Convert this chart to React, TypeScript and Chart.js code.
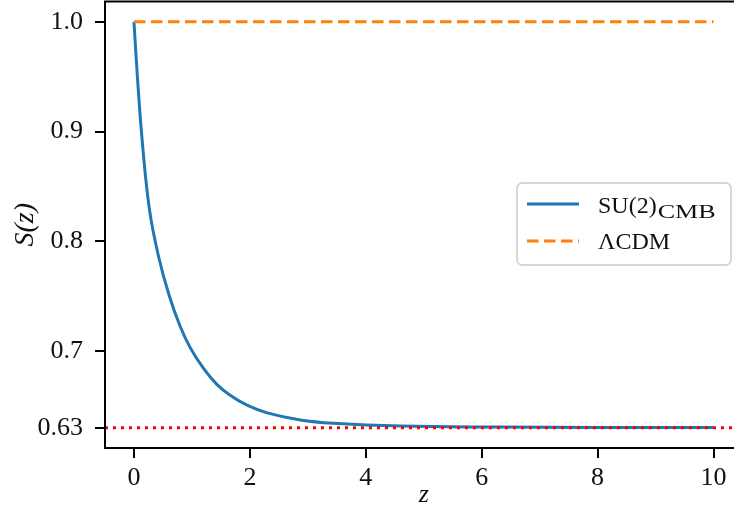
import React, { useEffect, useRef } from "react";
import { Chart, registerables } from "chart.js";

Chart.register(...registerables);

// ---- data ----
const zSU2 = [0, 0.06, 0.147, 0.267, 0.42, 0.61, 0.8, 0.97, 1.2, 1.43, 1.66, 1.95, 2.3, 2.87, 3.44, 4.6, 6.3, 8, 10];
const sSU2 = [1.0, 0.949, 0.8885, 0.829, 0.787, 0.75, 0.722, 0.703, 0.684, 0.6695, 0.6595, 0.6505, 0.6435, 0.637, 0.634, 0.6315, 0.6306, 0.6303, 0.6302];
const zLCDM = [0, 10];
const sLCDM = [1.0, 1.0];
const floorLevel = 0.63;
const xLimits = [-0.5, 10.5];
const yLimits = [0.6115, 1.0185];
const xTickValues = [0, 2, 4, 6, 8, 10];
const yTickValues = [0.63, 0.7, 0.8, 0.9, 1.0];
const yTickLabels = ["0.63", "0.7", "0.8", "0.9", "1.0"];
const legendMain = ["SU(2)", "ΛCDM"];
const legendSub = ["CMB", ""];

const FONT = "'Liberation Serif', 'DejaVu Serif', serif";
const TEXT = "#111";
const BLUE = "#1f77b4";
const ORANGE = "#ff7f0e";
const RED = "#ff0000";

const framePlugin = {
  id: "frame",
  afterDraw(chart: any) {
    const { ctx, chartArea } = chart;
    ctx.save();
    ctx.strokeStyle = "#000";
    ctx.lineWidth = 2;
    ctx.strokeRect(chartArea.left, chartArea.top, chartArea.right - chartArea.left, chartArea.bottom - chartArea.top);
    ctx.restore();
  },
};

const legendPlugin = {
  id: "mplLegend",
  afterDraw(chart: any) {
    const { ctx } = chart;
    const bx = 517, by = 183, bw = 214, bh = 82;
    ctx.save();
    ctx.beginPath();
    (ctx as any).roundRect(bx, by, bw, bh, 5);
    ctx.fillStyle = "rgba(255,255,255,0.8)";
    ctx.fill();
    ctx.strokeStyle = "#cccccc";
    ctx.lineWidth = 1.5;
    ctx.stroke();

    const rows = [
      { y: 204, color: BLUE, dash: [] as number[], base: 213 },
      { y: 241, color: ORANGE, dash: [11.5, 5.5], base: 249 },
    ];
    rows.forEach((r, i) => {
      ctx.beginPath();
      ctx.setLineDash(r.dash);
      ctx.strokeStyle = r.color;
      ctx.lineWidth = 3;
      ctx.moveTo(527, r.y);
      ctx.lineTo(579, r.y);
      ctx.stroke();
      ctx.setLineDash([]);
      ctx.fillStyle = TEXT;
      ctx.textBaseline = "alphabetic";
      ctx.textAlign = "left";
      ctx.font = `24px ${FONT}`;
      ctx.fillText(legendMain[i], 598, r.base);
      const w = ctx.measureText(legendMain[i]).width;
      if (legendSub[i]) {
        ctx.font = `18px ${FONT}`;
        const sw = ctx.measureText(legendSub[i]).width;
        const sx = 58 / sw;
        ctx.save();
        ctx.translate(598 + w + 1, r.base + 5);
        ctx.scale(sx, 1);
        ctx.fillText(legendSub[i], 0, 0);
        ctx.restore();
      }
    });
    ctx.restore();
  },
};

export default function App() {
  const ref = useRef<HTMLCanvasElement | null>(null);
  useEffect(() => {
    if (!ref.current) return;
    const chart = new Chart(ref.current, {
      type: "line",
      data: {
        datasets: [
          {
            label: "floor",
            data: xLimits.map((x) => ({ x, y: floorLevel })),
            borderColor: RED,
            borderWidth: 3,
            borderDash: [3, 5],
            pointRadius: 0,
            order: 0,
          },
          {
            label: "ΛCDM",
            data: zLCDM.map((x, i) => ({ x, y: sLCDM[i] })),
            borderColor: ORANGE,
            borderWidth: 3,
            borderDash: [11.5, 5.5],
            pointRadius: 0,
            order: 1,
          },
          {
            label: "SU(2)CMB",
            data: zSU2.map((x, i) => ({ x, y: sSU2[i] })),
            borderColor: BLUE,
            borderWidth: 3,
            pointRadius: 0,
            tension: 0.4,
            order: 2,
          },
        ],
      },
      options: {
        animation: false,
        responsive: false,
        devicePixelRatio: 1,
        layout: { padding: { top: 1.5, right: 7.5, left: 0, bottom: 0 } },
        plugins: { legend: { display: false }, tooltip: { enabled: false } },
        scales: {
          x: {
            type: "linear",
            min: xLimits[0],
            max: xLimits[1],
            afterBuildTicks: (s: any) => {
              s.ticks = xTickValues.map((v) => ({ value: v }));
            },
            afterFit: (s: any) => {
              s.height = 63;
              s.paddingLeft = 0;
              s.paddingRight = 0;
            },
            border: { display: false },
            grid: { drawOnChartArea: false, drawTicks: true, tickLength: 10, tickColor: "#000", lineWidth: 2 },
            ticks: {
              color: TEXT,
              font: { family: FONT, size: 26 },
              padding: 5,
              maxRotation: 0,
              autoSkip: false,
              callback: (v: any) => String(v),
            },
            title: {
              display: true,
              text: "z",
              color: TEXT,
              font: { family: FONT, size: 26, style: "italic" },
              padding: { top: 0, bottom: 0 },
            },
          },
          y: {
            type: "linear",
            min: yLimits[0],
            max: yLimits[1],
            afterBuildTicks: (s: any) => {
              s.ticks = yTickValues.map((v) => ({ value: v }));
            },
            afterFit: (s: any) => {
              s.width = 105;
              s.paddingTop = 0;
              s.paddingBottom = 0;
            },
            border: { display: false },
            grid: { drawOnChartArea: false, drawTicks: true, tickLength: 10, tickColor: "#000", lineWidth: 2 },
            ticks: {
              color: TEXT,
              font: { family: FONT, size: 26 },
              padding: 12,
              autoSkip: false,
              callback: (v: any) => {
                const i = yTickValues.indexOf(v);
                return i >= 0 ? yTickLabels[i] : "";
              },
            },
            title: {
              display: true,
              text: "S(z)",
              color: TEXT,
              font: { family: FONT, size: 28, style: "italic" },
              padding: { top: 9, bottom: 0 },
            },
          },
        },
      },
      plugins: [framePlugin, legendPlugin],
    } as any);
    return () => chart.destroy();
  }, []);
  return (
    <div style={{ position: "fixed", left: 0, top: 0, width: 734, height: 511, overflow: "hidden", background: "#fff" }}>
      <canvas ref={ref} width={750} height={511} style={{ display: "block" }} />
    </div>
  );
}
